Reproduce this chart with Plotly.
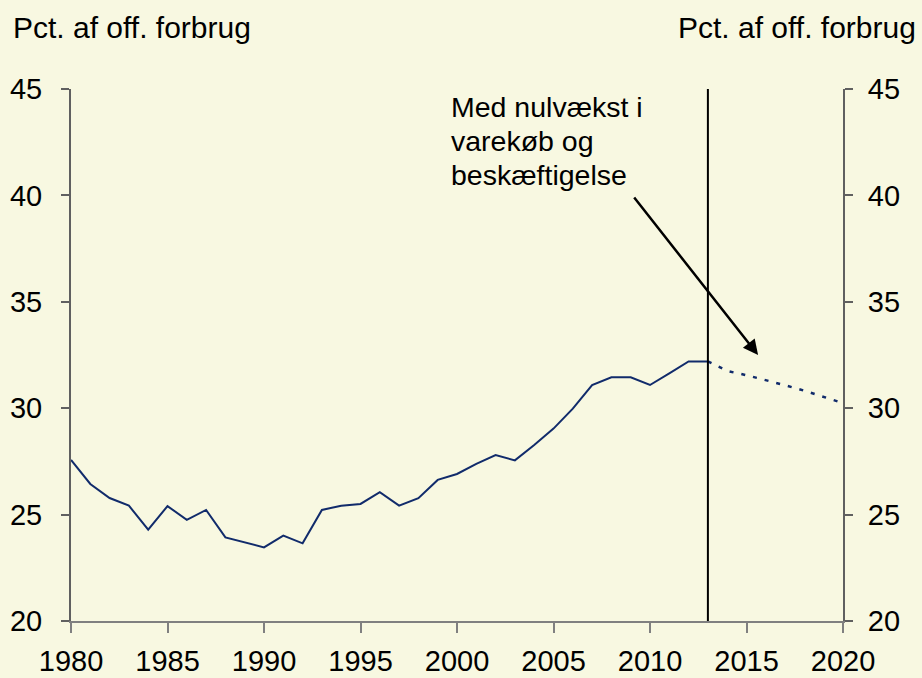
import plotly.graph_objects as go

years_hist = list(range(1980, 2014))
share_hist = [27.57, 26.44, 25.78, 25.42, 24.29, 25.40, 24.75, 25.22, 23.93, 23.68,
              23.46, 24.01, 23.65, 25.22, 25.42, 25.50, 26.05, 25.42, 25.77, 26.63,
              26.91, 27.38, 27.80, 27.55, 28.27, 29.04, 29.98, 31.09, 31.45, 31.45,
              31.09, 31.64, 32.20, 32.20]
years_proj = list(range(2013, 2021))
share_proj = [32.20, 31.75, 31.55, 31.33, 31.08, 30.82, 30.53, 30.24]

x_ticks = [1980, 1985, 1990, 1995, 2000, 2005, 2010, 2015, 2020]
y_ticks = [20, 25, 30, 35, 40, 45]
axis_label = "Pct. af off. forbrug"
note_lines = ["Med nulvækst i", "varekøb og", "beskæftigelse"]

BG = "#F8F8E1"
NAVY = "#112B6B"
FONT = "Liberation Sans, Arial, sans-serif"

fig = go.Figure()
fig.add_trace(go.Scatter(x=years_hist, y=share_hist, mode="lines",
                         line=dict(color=NAVY, width=2), showlegend=False,
                         hoverinfo="skip"))
fig.add_trace(go.Scatter(x=years_proj, y=share_proj, mode="lines",
                         line=dict(color=NAVY, width=2.5, dash="4px,8px"),
                         showlegend=False, hoverinfo="skip"))
# invisible trace on right axis
fig.add_trace(go.Scatter(x=years_proj, y=share_proj, yaxis="y2", mode="lines",
                         line=dict(width=0), opacity=0, showlegend=False,
                         hoverinfo="skip"))

fig.add_shape(type="line", xref="x", yref="paper", x0=years_hist[-1], x1=years_hist[-1],
              y0=0, y1=1, line=dict(color="black", width=2))

for i, line in enumerate(note_lines):
    fig.add_annotation(xref="x", yref="y", x=1999.6, y=45.0, yshift=-34 * i,
                       text=line, showarrow=False, xanchor="left", yanchor="top",
                       align="left", font=dict(size=28.5, color="black", family=FONT))
fig.add_annotation(xref="x", yref="y", axref="x", ayref="y",
                   x=2015.6, y=32.5, ax=2009.12, ay=39.97, text="",
                   showarrow=True, arrowhead=2, arrowsize=1.2, arrowwidth=2.5,
                   arrowcolor="black")

fig.add_annotation(xref="paper", yref="paper", x=-0.078, y=1.115, text=axis_label,
                   showarrow=False, xanchor="left", yanchor="middle",
                   font=dict(size=30, color="black", family=FONT))
fig.add_annotation(xref="paper", yref="paper", x=1.0975, y=1.115, text=axis_label,
                   showarrow=False, xanchor="right", yanchor="middle",
                   font=dict(size=30, color="black", family=FONT))

fig.update_layout(
    width=922, height=678,
    margin=dict(l=71, r=79, t=89, b=57, autoexpand=False),
    paper_bgcolor=BG, plot_bgcolor=BG,
    font=dict(family=FONT, size=29, color="black"),
    xaxis=dict(range=[1980, 2020], tickvals=x_ticks, ticks="outside", ticklen=10,
               tickcolor="#808080", tickwidth=1.5, showline=True, linecolor="#808080",
               linewidth=2, showgrid=False, zeroline=False, ticklabelstandoff=3,
               automargin=False, tickfont=dict(size=29)),
    yaxis=dict(range=[20, 45], tickvals=y_ticks, ticks="outside", ticklen=8,
               tickcolor="#606060", tickwidth=1.5, showline=True, linecolor="#606060",
               linewidth=2, showgrid=False, zeroline=False, ticklabelstandoff=13,
               automargin=False, tickfont=dict(size=29)),
    yaxis2=dict(range=[20, 45], tickvals=y_ticks, ticks="outside", ticklen=8,
                tickcolor="#606060", tickwidth=1.5, showline=True, linecolor="#606060",
                linewidth=2, showgrid=False, zeroline=False, overlaying="y",
                side="right", ticklabelstandoff=9, automargin=False,
                tickfont=dict(size=29)),
)

fig.write_html("out.html", config={"displayModeBar": False},
               post_script="document.body.style.margin='0';"
                           "document.body.style.background='%s';" % BG)
